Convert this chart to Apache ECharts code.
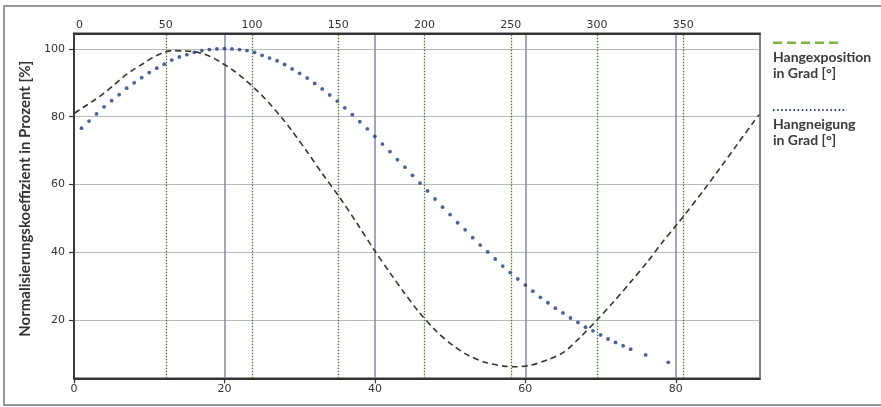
<!DOCTYPE html>
<html>
<head>
<meta charset="utf-8">
<script src="https://cdn.jsdelivr.net/npm/echarts@6/dist/echarts.min.js"></script>
<style>
html,body{margin:0;padding:0;background:#fff;}
#chart{width:881px;height:407px;}
</style>
</head>
<body>
<div id="chart"></div>
<script>
// Hangneigung (slope, degrees, bottom axis) – discrete dots
var neigungX = [1,2,3,4,5,6,7,8,9,10,11,12,13,14,15,16,17,18,19,20,21,22,23,24,25,26,27,28,29,30,31,32,33,34,35,36,37,38,39,40,41,42,43,44,45,46,47,48,49,50,51,52,53,54,55,56,57,58,59,60,61,62,63,64,65,66,67,68,69,70,71,72,73,74,76,79];
var neigungY = [76.6,78.7,80.8,82.9,84.7,86.5,88.4,90.0,91.5,93.0,94.3,95.5,96.7,97.6,98.3,99.0,99.5,99.8,100.0,100.1,100.0,99.8,99.5,99.0,98.1,97.3,96.5,95.4,94.1,92.8,91.4,89.8,88.2,86.4,84.6,82.6,80.6,78.5,76.4,74.2,71.9,69.7,67.3,65.1,62.7,60.4,58.1,55.7,53.3,51.1,48.7,46.6,44.3,42.1,40.1,38.0,35.9,34.0,32.1,30.3,28.5,26.7,25.1,23.5,22.1,20.6,19.3,17.9,16.8,15.6,14.4,13.4,12.4,11.4,9.7,7.5];

// Hangexposition (aspect, degrees, top axis) – dashed curve
var expoX = [-3,2,8,14,20,25,31,37,43,49,54,60,66,72,78,83,89,95,101,107,112,117,123,132,141,151,161,171,180,188,197,207,217,226,236,246,253,261,271,281,290,300,310,319,329,338,346,352,362,371,381,391,394];
var expoY = [81.0,82.7,84.7,86.9,89.4,91.6,93.8,95.7,97.6,99.0,99.5,99.4,99.2,98.5,97.2,95.7,93.7,91.3,88.6,85.6,82.8,79.8,75.9,69.6,63.0,56.0,48.4,40.5,33.9,28.2,22.2,16.6,12.3,9.4,7.4,6.4,6.2,6.6,8.2,10.6,14.8,20.0,25.6,30.9,37.0,43.0,48.0,51.8,58.4,64.6,71.6,78.6,80.6];

// Vertical reference lines of the top (aspect) axis
var expoLines = [50,100,150,200,250,300,350];

var yTitle = 'Normalisierungskoeffizient in Prozent [%]';
var legend1 = ['Hangexposition', 'in Grad [°]'];
var legend2 = ['Hangneigung', 'in Grad [°]'];

var chart = echarts.init(document.getElementById('chart'), null, {renderer:'canvas'});
var tickFont = {color:'#333', fontFamily:'DejaVu Sans', fontSize:11};
var boldFont = 'Lato';

var option = {
  animation:false,
  backgroundColor:'#fff',
  grid:{left:74, right:121, top:33.3, bottom:28.7, show:true, borderColor:'#3a3a3a', borderWidth:1.5, backgroundColor:'transparent'},
  xAxis:[{
    type:'value', position:'bottom', min:0, max:91.2, interval:20,
    axisLine:{show:true, lineStyle:{color:'#333', width:1.8}},
    axisTick:{show:true, length:5, lineStyle:{color:'#333', width:1.2}},
    axisLabel:Object.assign({margin:5, showMaxLabel:false}, tickFont),
    splitLine:{show:true, lineStyle:{color:'#7f88aa', width:1.5}}
  },{
    type:'value', position:'top', min:-3.25, max:394.5, splitNumber:8,
    axisLine:{show:true, lineStyle:{color:'#333', width:1.8}},
    axisTick:{show:false},
    axisLabel:Object.assign({margin:3, showMinLabel:false, showMaxLabel:false}, tickFont),
    splitLine:{show:false}
  }],
  yAxis:{
    type:'value', min:2.8, max:104.6, splitNumber:5,
    axisLine:{show:true, lineStyle:{color:'#333', width:1.8}},
    axisTick:{show:true, length:5, lineStyle:{color:'#333', width:1.2}},
    axisLabel:Object.assign({margin:9, showMinLabel:false, showMaxLabel:false}, tickFont),
    splitLine:{show:true, lineStyle:{color:'#b9b9c2', width:1.2}},
    name:yTitle, nameLocation:'middle', nameGap:39,
    nameTextStyle:{fontFamily:boldFont, fontWeight:'bold', fontSize:15, color:'#333', padding:[0,0,0,14]}
  },
  series:[{
    name:'Hangexposition', type:'line', xAxisIndex:1, yAxisIndex:0,
    data:expoX.map(function(x,i){return [x, expoY[i]];}),
    smooth:0.3, showSymbol:false, z:3,
    lineStyle:{color:'#33362a', width:1.6, type:[6,4]},
    markLine:{
      silent:true, symbol:['none','none'], label:{show:false},
      lineStyle:{color:'#3f7a22', type:[1.5,1.5], width:1.3},
      data:expoLines.map(function(v){return {xAxis:v};})
    }
  },{
    name:'Hangneigung', type:'scatter', xAxisIndex:0, yAxisIndex:0,
    data:neigungX.map(function(x,i){return [x, neigungY[i]];}),
    symbol:'circle', symbolSize:3.8, z:4,
    itemStyle:{color:'#1f3a88'}
  }],
  graphic:[
    {type:'rect', shape:{x:4, y:6, width:880, height:399}, style:{fill:'none', stroke:'#777', lineWidth:1.5}, silent:true},
    {type:'line', shape:{x1:773, y1:42.7, x2:842, y2:42.7}, style:{stroke:'#7cb342', lineWidth:2.5, lineDash:[9,5]}},
    {type:'text', left:773, top:49, style:{text:legend1.join('\n'), fill:'#3a3a3a', font:'bold 14px Lato', lineHeight:16}},
    {type:'line', shape:{x1:773, y1:110, x2:847, y2:110}, style:{stroke:'#2a3f8a', lineWidth:2, lineDash:[1.5,2.6]}},
    {type:'text', left:773, top:116, style:{text:legend2.join('\n'), fill:'#3a3a3a', font:'bold 14px Lato', lineHeight:16}}
  ]
};
chart.setOption(option);
</script>
</body>
</html>
